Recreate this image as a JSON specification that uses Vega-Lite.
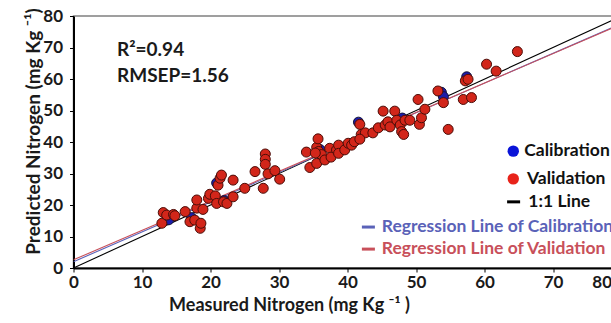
{
  "$schema": "https://vega.github.io/schema/vega-lite/v6.json",
  "width": 548,
  "height": 252,
  "autosize": {"type": "none"},
  "padding": {"left": 73.5, "top": 16, "right": 0, "bottom": 55},
  "background": "white",
  "config": {
    "view": {"stroke": "#808080", "strokeWidth": 1.5},
    "font": "Lato",
    "axis": {
      "grid": false,
      "domainColor": "#000000",
      "domainWidth": 2,
      "tickColor": "#000000",
      "tickSize": 4,
      "labelOverlap": false,
      "labelFont": "Lato",
      "labelFontSize": 17,
      "labelFontWeight": "bold",
      "labelColor": "#1a1a1a",
      "titleFont": "Lato",
      "titleFontSize": 18,
      "titleFontWeight": "bold",
      "titleColor": "#1a1a1a"
    }
  },
  "datasets": {
    "lines": [
      {"series": "1:1 Line", "x": 0, "y": 0},
      {"series": "1:1 Line", "x": 80, "y": 80},
      {"series": "Regression Line of Calibration", "x": 0, "y": 2.0},
      {"series": "Regression Line of Calibration", "x": 80, "y": 77.6},
      {"series": "Regression Line of Validation", "x": 0, "y": 2.6},
      {"series": "Regression Line of Validation", "x": 80, "y": 77.4}
    ],
    "cal": [
      {"x": 13.9, "y": 15.3}, {"x": 17.2, "y": 16.0}, {"x": 20.9, "y": 27.0},
      {"x": 22.0, "y": 21.4}, {"x": 36.0, "y": 37.6}, {"x": 41.6, "y": 46.3},
      {"x": 48.0, "y": 47.6}, {"x": 53.7, "y": 55.8}, {"x": 54.0, "y": 54.4},
      {"x": 57.4, "y": 60.7}
    ],
    "val": [
      {"x": 12.9, "y": 14.2}, {"x": 13.1, "y": 17.6}, {"x": 13.6, "y": 16.8},
      {"x": 14.6, "y": 17.0}, {"x": 14.8, "y": 16.6}, {"x": 16.3, "y": 17.9},
      {"x": 17.0, "y": 14.7}, {"x": 17.7, "y": 15.2}, {"x": 18.0, "y": 19.0},
      {"x": 18.0, "y": 21.6}, {"x": 18.5, "y": 12.6}, {"x": 18.6, "y": 14.2},
      {"x": 18.9, "y": 18.6}, {"x": 19.7, "y": 22.1}, {"x": 19.9, "y": 23.4},
      {"x": 20.7, "y": 22.9}, {"x": 20.9, "y": 20.5}, {"x": 21.1, "y": 26.3},
      {"x": 21.4, "y": 28.5}, {"x": 21.6, "y": 29.5}, {"x": 21.9, "y": 21.0},
      {"x": 22.4, "y": 20.5}, {"x": 23.3, "y": 27.9}, {"x": 23.3, "y": 22.6},
      {"x": 25.0, "y": 25.3}, {"x": 26.5, "y": 30.6}, {"x": 27.7, "y": 25.3},
      {"x": 28.0, "y": 36.2}, {"x": 28.0, "y": 34.5}, {"x": 28.0, "y": 32.9},
      {"x": 28.4, "y": 29.9}, {"x": 29.4, "y": 30.9}, {"x": 30.1, "y": 28.2},
      {"x": 34.0, "y": 36.8}, {"x": 34.5, "y": 31.9}, {"x": 35.5, "y": 38.3},
      {"x": 35.5, "y": 33.2}, {"x": 35.7, "y": 41.0}, {"x": 35.8, "y": 37.0},
      {"x": 36.2, "y": 36.0}, {"x": 35.3, "y": 36.5}, {"x": 36.7, "y": 34.3},
      {"x": 37.4, "y": 38.0}, {"x": 37.6, "y": 35.2}, {"x": 38.4, "y": 37.5},
      {"x": 38.7, "y": 39.0}, {"x": 38.7, "y": 36.4}, {"x": 39.6, "y": 37.5},
      {"x": 40.1, "y": 39.6}, {"x": 40.6, "y": 39.0}, {"x": 41.0, "y": 40.1},
      {"x": 41.8, "y": 45.6}, {"x": 42.0, "y": 42.4}, {"x": 42.6, "y": 42.9},
      {"x": 41.8, "y": 40.9}, {"x": 43.7, "y": 42.9}, {"x": 44.5, "y": 44.5},
      {"x": 45.2, "y": 49.8}, {"x": 45.5, "y": 45.4}, {"x": 45.9, "y": 46.4},
      {"x": 46.2, "y": 44.8}, {"x": 46.9, "y": 49.8}, {"x": 47.2, "y": 46.9},
      {"x": 47.7, "y": 45.4}, {"x": 47.9, "y": 43.3}, {"x": 48.2, "y": 42.4},
      {"x": 48.4, "y": 46.9}, {"x": 49.1, "y": 46.9}, {"x": 50.3, "y": 53.5},
      {"x": 50.5, "y": 45.6}, {"x": 50.8, "y": 47.7}, {"x": 51.3, "y": 50.4},
      {"x": 53.2, "y": 56.2}, {"x": 54.0, "y": 52.5}, {"x": 54.7, "y": 44.0},
      {"x": 56.9, "y": 53.5}, {"x": 58.1, "y": 54.1}, {"x": 57.2, "y": 59.4},
      {"x": 57.6, "y": 59.9}, {"x": 60.3, "y": 64.7}, {"x": 61.7, "y": 62.5},
      {"x": 64.8, "y": 68.7}
    ],
    "notes": [
      {"label": "R²=0.94", "x": 6.35, "y": 67.3},
      {"label": "RMSEP=1.56", "x": 6.35, "y": 59.0}
    ],
    "legendDots": [
      {"series": "Calibration", "x": 64.2, "y": 37.1},
      {"series": "Validation", "x": 64.2, "y": 28.3}
    ],
    "legendDashes": [
      {"series": "1:1 Line", "x": 63.3, "x2": 65.2, "y": 21.0},
      {"series": "Regression Line of Calibration", "x": 42.1, "x2": 44.0, "y": 13.0},
      {"series": "Regression Line of Validation", "x": 42.1, "x2": 44.0, "y": 6.0}
    ],
    "legendTextBlack": [
      {"label": "Calibration", "x": 65.8, "y": 37.1},
      {"label": "Validation", "x": 66.2, "y": 28.3},
      {"label": "1:1 Line", "x": 66.4, "y": 21.0}
    ],
    "legendTextColor": [
      {"series": "Regression Line of Calibration", "x": 45.0, "y": 13.0},
      {"series": "Regression Line of Validation", "x": 45.0, "y": 6.0}
    ]
  },
  "layer": [
    {
      "data": {"name": "lines"},
      "mark": {"type": "line", "strokeWidth": 1.1, "clip": true},
      "encoding": {
        "x": {
          "field": "x", "type": "quantitative",
          "scale": {"domain": [0, 80], "nice": false},
          "axis": {
            "values": [0, 10, 20, 30, 40, 50, 60, 70, 80],
            "labelOverlap": false,
            "labelPadding": 2,
            "labelAlign": {"condition": {"test": "datum.value == 80", "value": "right"}, "value": "center"},
            "labelOffset": {"condition": {"test": "datum.value == 80", "value": -10}, "value": 0},
            "title": "Measured Nitrogen  (mg Kg ⁻¹ )",
            "titleX": 215.5,
            "titleY": 42,
            "titleBaseline": "alphabetic"
          }
        },
        "y": {
          "field": "y", "type": "quantitative",
          "scale": {"domain": [0, 80], "nice": false},
          "axis": {
            "values": [0, 10, 20, 30, 40, 50, 60, 70, 80],
            "tickCount": 9,
            "labelOverlap": false,
            "labelPadding": 7,
            "title": "Predicted Nitrogen (mg Kg ⁻¹)",
            "titleFontSize": 19,
            "titleX": -40.5,
            "titleY": 115,
            "titleBaseline": "middle",
            "titleAngle": -90
          }
        },
        "color": {
          "field": "series", "type": "nominal",
          "scale": {
            "domain": ["Calibration", "Validation", "1:1 Line", "Regression Line of Calibration", "Regression Line of Validation"],
            "range": ["#0a14d8", "#e8231a", "#000000", "#5a62b8", "#c8505a"]
          },
          "legend": null
        }
      }
    },
    {
      "data": {"name": "cal"},
      "mark": {"type": "point", "shape": "circle", "filled": true, "size": 100, "fill": "#1c1ca8", "stroke": "#14143a", "strokeWidth": 1, "opacity": 1},
      "encoding": {
        "x": {"field": "x", "type": "quantitative"},
        "y": {"field": "y", "type": "quantitative"}
      }
    },
    {
      "data": {"name": "val"},
      "mark": {"type": "point", "shape": "circle", "filled": true, "size": 100, "fill": "#d2261a", "stroke": "#4a0d08", "strokeWidth": 1, "opacity": 1},
      "encoding": {
        "x": {"field": "x", "type": "quantitative"},
        "y": {"field": "y", "type": "quantitative"}
      }
    },
    {
      "data": {"name": "notes"},
      "mark": {"type": "text", "align": "left", "baseline": "alphabetic", "font": "Lato", "fontSize": 19, "fontWeight": "bold", "color": "#1a1a1a"},
      "encoding": {
        "x": {"field": "x", "type": "quantitative"},
        "y": {"field": "y", "type": "quantitative"},
        "text": {"field": "label"}
      }
    },
    {
      "data": {"name": "legendDots"},
      "mark": {"type": "point", "shape": "circle", "filled": true, "size": 130, "opacity": 1},
      "encoding": {
        "x": {"field": "x", "type": "quantitative"},
        "y": {"field": "y", "type": "quantitative"},
        "color": {"field": "series", "type": "nominal", "legend": null}
      }
    },
    {
      "data": {"name": "legendDashes"},
      "mark": {"type": "rule", "strokeWidth": 3},
      "encoding": {
        "x": {"field": "x", "type": "quantitative"},
        "x2": {"field": "x2"},
        "y": {"field": "y", "type": "quantitative"},
        "color": {"field": "series", "type": "nominal", "legend": null}
      }
    },
    {
      "data": {"name": "legendTextBlack"},
      "mark": {"type": "text", "align": "left", "baseline": "middle", "font": "Lato", "fontSize": 17.5, "fontWeight": "bold", "color": "#111111"},
      "encoding": {
        "x": {"field": "x", "type": "quantitative"},
        "y": {"field": "y", "type": "quantitative"},
        "text": {"field": "label"}
      }
    },
    {
      "data": {"name": "legendTextColor"},
      "mark": {"type": "text", "align": "left", "baseline": "middle", "font": "Lato", "fontSize": 17.5, "fontWeight": "bold"},
      "encoding": {
        "x": {"field": "x", "type": "quantitative"},
        "y": {"field": "y", "type": "quantitative"},
        "text": {"field": "series"},
        "color": {"field": "series", "type": "nominal", "legend": null}
      }
    }
  ]
}
